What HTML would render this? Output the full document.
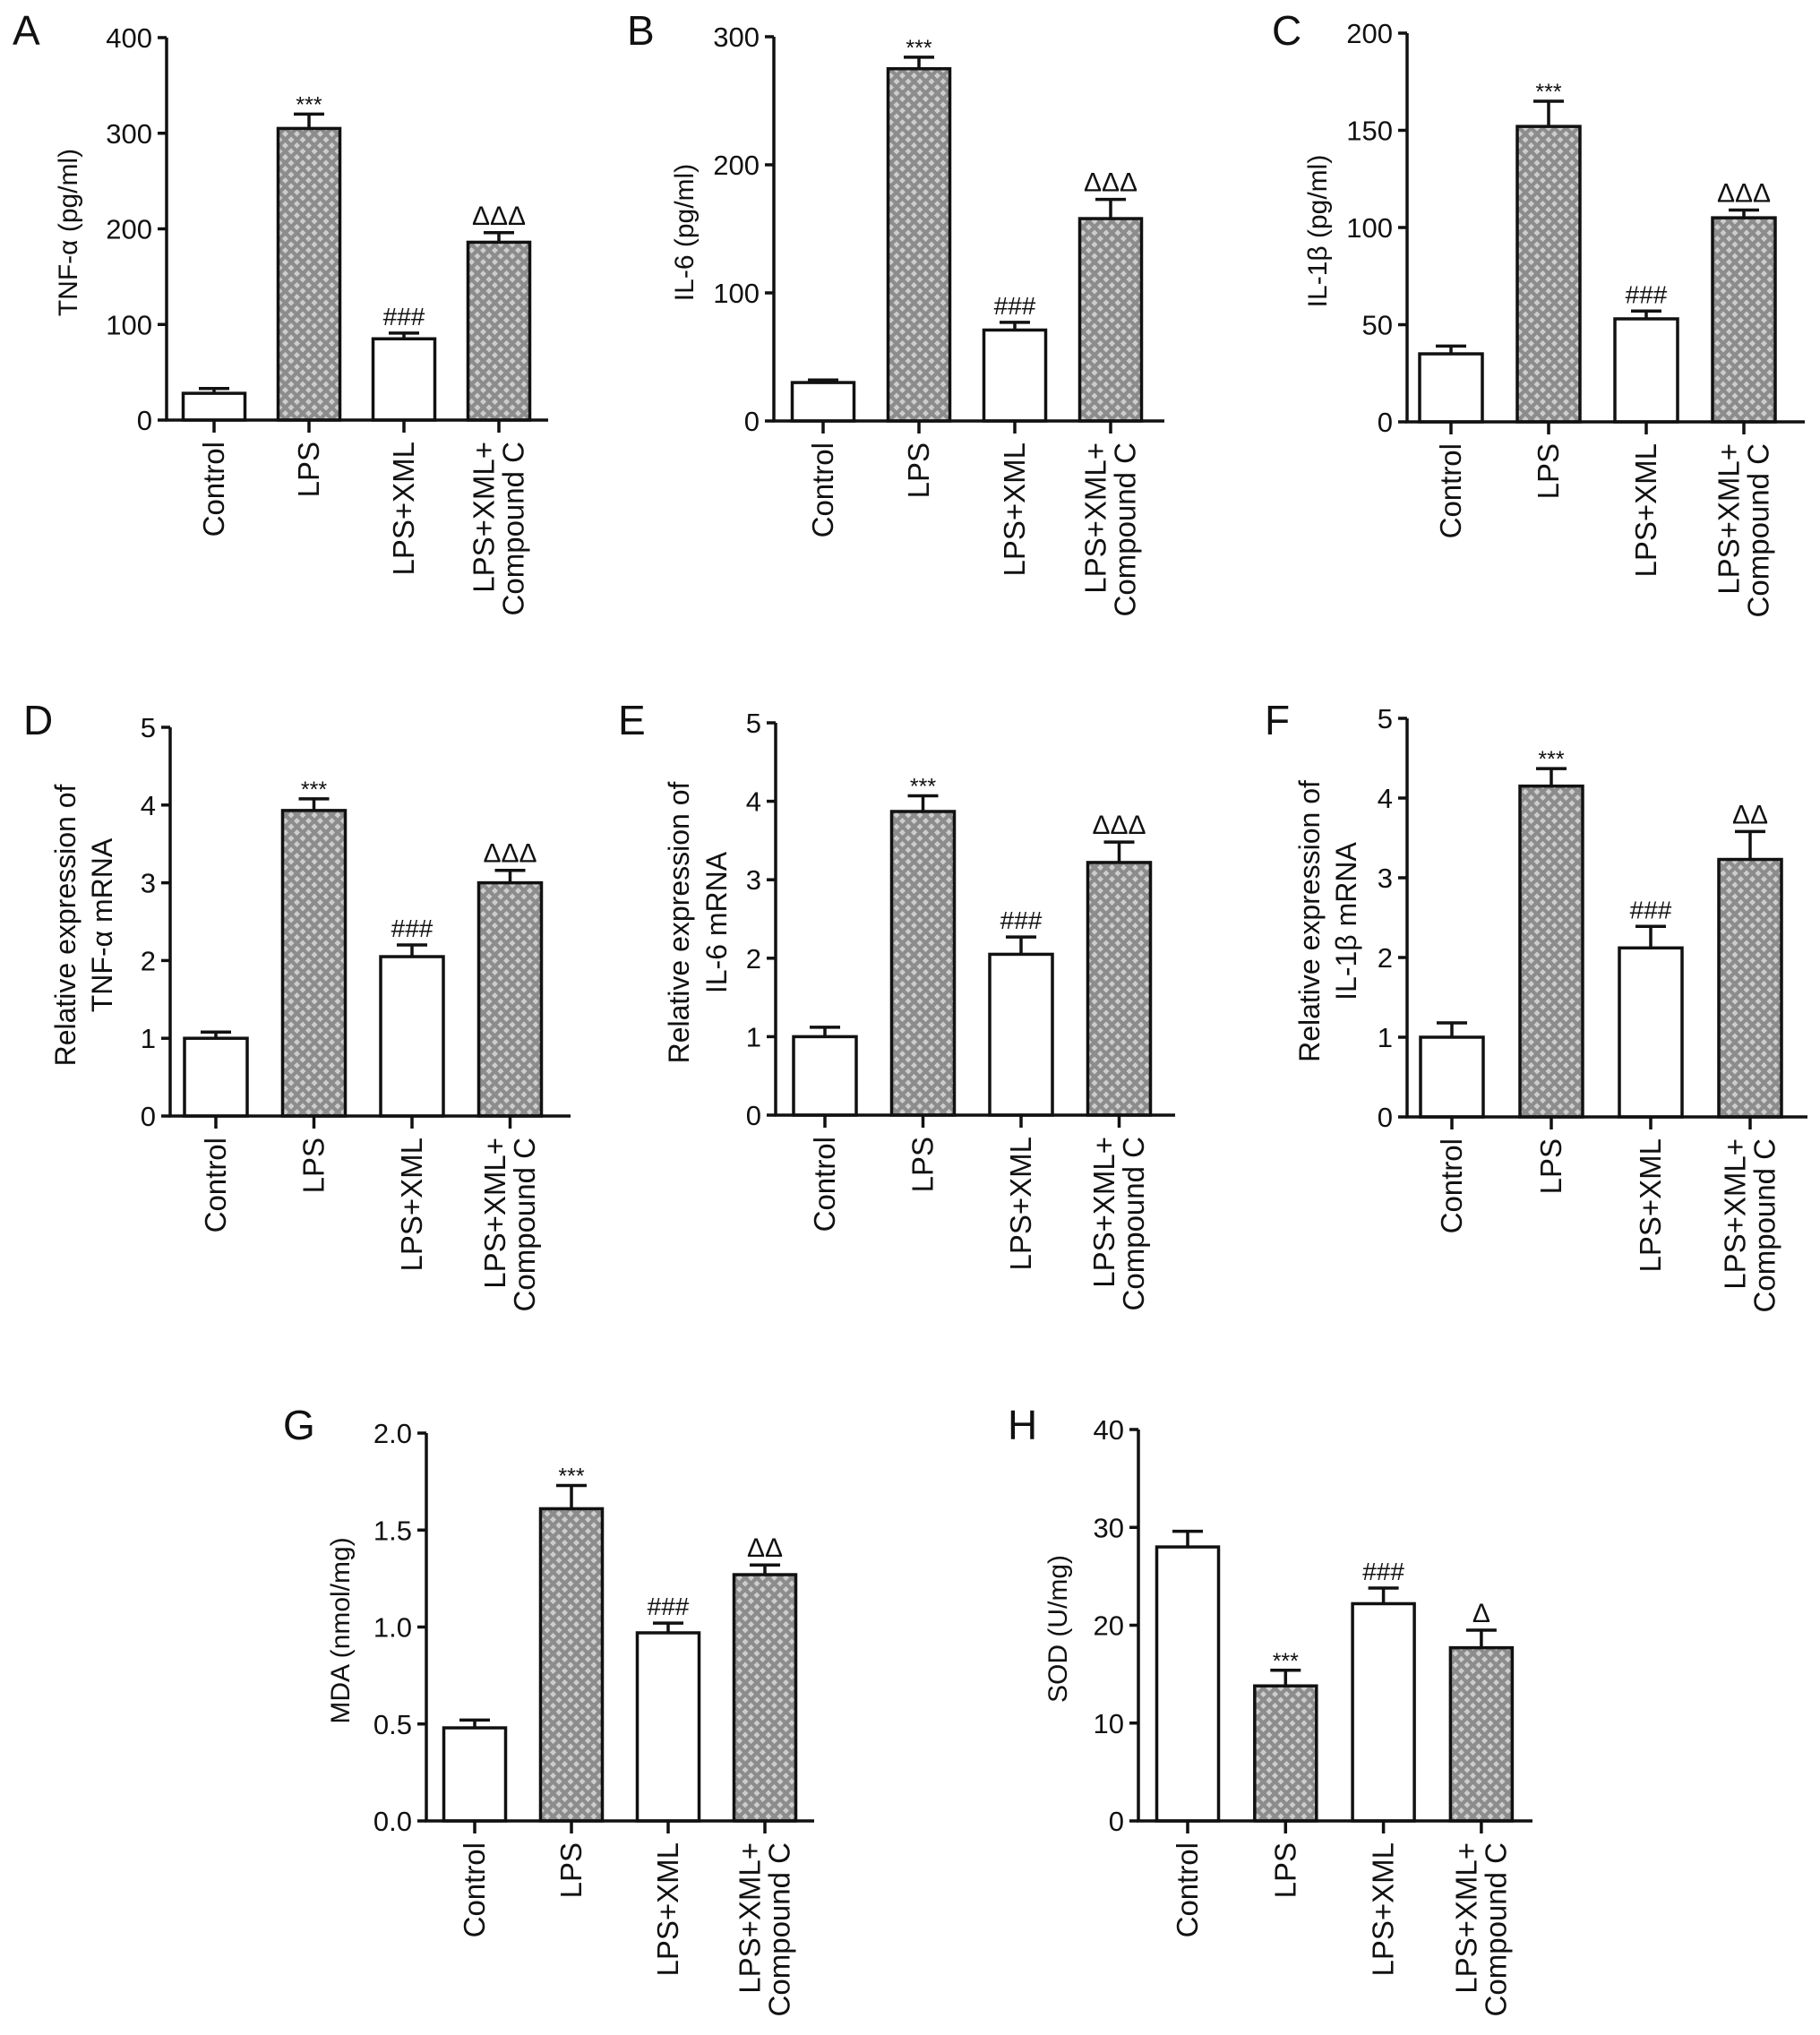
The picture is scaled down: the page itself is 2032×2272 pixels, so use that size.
<!DOCTYPE html>
<html><head><meta charset="utf-8">
<style>
html,body{margin:0;padding:0;background:#fff;}
svg{display:block;}
text{font-family:"Liberation Sans",Arial,sans-serif;fill:#111;}
</style></head>
<body>
<svg id="fig" width="2032" height="2272" viewBox="0 0 2032 2272" xmlns="http://www.w3.org/2000/svg">
<defs>
<pattern id="dots" patternUnits="userSpaceOnUse" width="13" height="13">
<rect width="13" height="13" fill="#8c8c8c"/>
<polygon points="0,-3.5 3.5,0 0,3.5 -3.5,0" fill="#cdcdcd"/>
<polygon points="13,-3.5 16.5,0 13,3.5 9.5,0" fill="#cdcdcd"/>
<polygon points="0,9.5 3.5,13 0,16.5 -3.5,13" fill="#cdcdcd"/>
<polygon points="13,9.5 16.5,13 13,16.5 9.5,13" fill="#cdcdcd"/>
<polygon points="6.5,3 10,6.5 6.5,10 3,6.5" fill="#cdcdcd"/>
</pattern>
</defs>
</svg>
<script>
const categories = ["Control", "LPS", "LPS+XML", "LPS+XML+|Compound C"];
const patterned = [false, true, false, true];

const valuesA = [28, 305, 85, 186];
const errorsA = [5, 15, 6, 10];
const ticksA = [0, 100, 200, 300, 400];
const marksA = ["", "***", "###", "ΔΔΔ"];

const valuesB = [30, 275, 71, 158];
const errorsB = [2, 9, 6, 15];
const ticksB = [0, 100, 200, 300];
const marksB = ["", "***", "###", "ΔΔΔ"];

const valuesC = [35, 152, 53, 105];
const errorsC = [4, 13, 4, 4];
const ticksC = [0, 50, 100, 150, 200];
const marksC = ["", "***", "###", "ΔΔΔ"];

const valuesD = [1.0, 3.93, 2.05, 3.0];
const errorsD = [0.08, 0.15, 0.15, 0.16];
const ticksD = [0, 1, 2, 3, 4, 5];
const marksD = ["", "***", "###", "ΔΔΔ"];

const valuesE = [1.0, 3.87, 2.05, 3.22];
const errorsE = [0.12, 0.2, 0.22, 0.26];
const ticksE = [0, 1, 2, 3, 4, 5];
const marksE = ["", "***", "###", "ΔΔΔ"];

const valuesF = [1.0, 4.15, 2.12, 3.23];
const errorsF = [0.18, 0.22, 0.27, 0.35];
const ticksF = [0, 1, 2, 3, 4, 5];
const marksF = ["", "***", "###", "ΔΔ"];

const valuesG = [0.48, 1.61, 0.97, 1.27];
const errorsG = [0.04, 0.12, 0.05, 0.05];
const ticksG = [0, 0.5, 1.0, 1.5, 2.0];
const marksG = ["", "***", "###", "ΔΔ"];

const valuesH = [28, 13.8, 22.2, 17.7];
const errorsH = [1.6, 1.6, 1.6, 1.8];
const ticksH = [0, 10, 20, 30, 40];
const marksH = ["", "***", "###", "Δ"];

// layout (pixel geometry, not data)
const panels = [
 {id:"a", letter:"A", lx:14, ly:50, ax:186, top:42, zero:469, right:612, c0:239, sp:106, bw:69, tx:75, title:["TNF-α (pg/ml)"], vals:valuesA, errs:errorsA, ticks:ticksA, marks:marksA, dec:0},
 {id:"b", letter:"B", lx:700, ly:50, ax:864, top:41, zero:470, right:1300, c0:919, sp:107, bw:69, tx:763, title:["IL-6 (pg/ml)"], vals:valuesB, errs:errorsB, ticks:ticksB, marks:marksB, dec:0},
 {id:"c", letter:"C", lx:1420, ly:50, ax:1571, top:37, zero:471, right:2015, c0:1620, sp:109, bw:70, tx:1470, title:["IL-1β (pg/ml)"], vals:valuesC, errs:errorsC, ticks:ticksC, marks:marksC, dec:0},
 {id:"d", letter:"D", lx:26, ly:820, ax:190, top:812, zero:1246, right:637, c0:241, sp:109.5, bw:70, tx:[73,114], title:["Relative expression of","TNF-α mRNA"], vals:valuesD, errs:errorsD, ticks:ticksD, marks:marksD, dec:0},
 {id:"e", letter:"E", lx:690, ly:820, ax:866, top:807, zero:1245, right:1312, c0:921, sp:109.5, bw:70, tx:[758,800], title:["Relative expression of","IL-6 mRNA"], vals:valuesE, errs:errorsE, ticks:ticksE, marks:marksE, dec:0},
 {id:"f", letter:"F", lx:1412, ly:820, ax:1571, top:802, zero:1247, right:2018, c0:1621, sp:111, bw:70, tx:[1462,1503], title:["Relative expression of","IL-1β mRNA"], vals:valuesF, errs:errorsF, ticks:ticksF, marks:marksF, dec:0},
 {id:"g", letter:"G", lx:316, ly:1607, ax:476, top:1600, zero:2033, right:909, c0:530, sp:108, bw:69, tx:379, title:["MDA (nmol/mg)"], vals:valuesG, errs:errorsG, ticks:ticksG, marks:marksG, dec:1},
 {id:"h", letter:"H", lx:1125, ly:1607, ax:1271, top:1596, zero:2033, right:1711, c0:1326, sp:109.3, bw:69, tx:1180, title:["SOD (U/mg)"], vals:valuesH, errs:errorsH, ticks:ticksH, marks:marksH, dec:0}
];

const NS = "http://www.w3.org/2000/svg";
const svg = document.getElementById("fig");
function mk(tag, attrs, parent, txt){
  const e = document.createElementNS(NS, tag);
  for (const k in attrs) e.setAttribute(k, attrs[k]);
  if (txt !== undefined) e.textContent = txt;
  parent.appendChild(e);
  return e;
}

panels.forEach(p => {
  const g = mk("g", {}, svg);
  
  
  const tmax = p.ticks[p.ticks.length - 1];
  const y = v => p.zero - (v / tmax) * (p.zero - p.top);
  const x = i => p.c0 + i * p.sp;

  const L = mk("text", {x:p.lx, y:p.ly, "font-size":46}, g, p.letter);
  
  

  p.vals.forEach((v, i) => {
    const cx = x(i), top = y(v);
    const b = mk("rect", {x:cx - p.bw/2, y:top, width:p.bw, height:p.zero - top,
      fill: patterned[i] ? "url(#dots)" : "#fff", stroke:"#111", "stroke-width":3.5}, g);
    
    
    const et = y(v + p.errs[i]);
    const eb = mk("path", {d:`M${cx} ${top} V${et} M${cx - 17} ${et} H${cx + 17}`, stroke:"#111", "stroke-width":3.5, fill:"none"}, g);
    
    
    if (p.marks[i]) {
      const isStar = p.marks[i][0] === "*";
      const isHash = p.marks[i][0] === "#";
      const m = mk("text", {x:cx, y:et - (isStar ? 2 : 9), "text-anchor":"middle",
        "font-size": isStar ? 25 : (isHash ? 28 : 30),
        "font-family": isStar ? "Liberation Sans, sans-serif" : "Liberation Serif, serif"}, g, p.marks[i]);
      
      
    }
  });

  const ya = mk("path", {d:`M${p.ax} ${p.top} V${p.zero}`, stroke:"#111", "stroke-width":3.5, fill:"none"}, g);
  
  
  const xa = mk("path", {d:`M${p.ax - 1.5} ${p.zero} H${p.right}`, stroke:"#111", "stroke-width":3.5, fill:"none"}, g);
  
  

  p.ticks.forEach(t => {
    const ty = y(t);
    mk("path", {d:`M${p.ax - 10} ${ty} H${p.ax}`, stroke:"#111", "stroke-width":3.5}, g);
    const tl = mk("text", {x:p.ax - 16, y:ty + 11, "text-anchor":"end", "font-size":31}, g, t.toFixed(p.dec));
    
    
  });

  categories.forEach((c, i) => {
    const cx = x(i);
    mk("path", {d:`M${cx} ${p.zero} V${p.zero + 14}`, stroke:"#111", "stroke-width":3.5}, g);
    const lines = c.split("|");
    lines.forEach((ln, k) => {
      const off = (k - (lines.length - 1) / 2) * 33;
      const t = mk("text", {x:0, y:0, "text-anchor":"end", "font-size":33,
        transform:`translate(${cx + off + 11},${p.zero + 24}) rotate(-90)`}, g, ln);
      
      
    });
  });

  const cy = (p.top + p.zero) / 2 + 4;
  const tfs = p.title.length > 1 ? 32 : 30;
  p.title.forEach((tt, k) => {
    const tx = Array.isArray(p.tx) ? p.tx[k] : p.tx;
    const t = mk("text", {x:0, y:0, "text-anchor":"middle", "font-size":tfs,
      transform:`translate(${tx + 11},${cy}) rotate(-90)`}, g, tt);
    
    
  });
});
</script>
</body></html>
